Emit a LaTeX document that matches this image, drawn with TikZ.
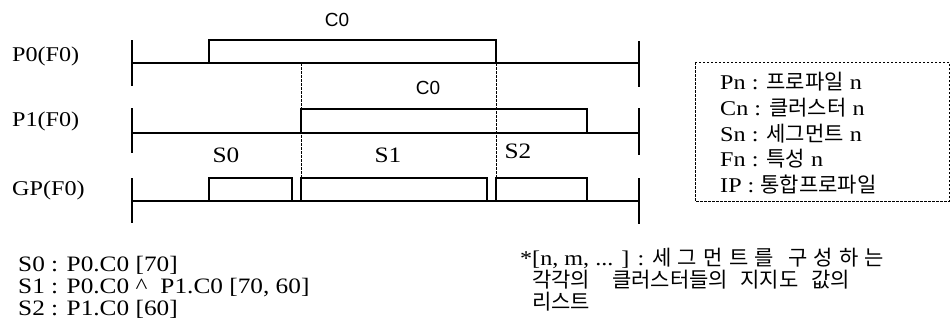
\documentclass[tikz,border=0pt]{standalone}
\usepackage{fontspec}
\setmainfont[FakeStretch=1.15]{Liberation Serif}
\newfontfamily\kr{Noto Sans CJK KR}
\newfontfamily\lsans{Liberation Sans}
\begin{document}
\begin{tikzpicture}[x=1pt,y=-1pt,
  sig/.style={line width=1.4pt},
  tickline/.style={line width=1.4pt},
  guide/.style={line width=0.8pt, dash pattern=on 2.5pt off 1.5pt},
  lbl/.style={font=\fontsize{21}{24}\selectfont, inner sep=0pt},
  slbl/.style={font=\fontsize{22}{24}\selectfont, inner sep=0pt},
  clbl/.style={font=\lsans\fontsize{19}{22}\selectfont, inner sep=0pt},
  txt/.style={font=\fontsize{22}{22}\selectfont, inner sep=0pt, align=left},
  note/.style={font=\fontsize{21}{22}\selectfont, inner sep=0pt, align=left},
  legtxt/.style={font=\fontsize{21}{25.8}\selectfont, inner sep=0pt, align=left}]
\useasboundingbox (0,0) rectangle (952,330);
% guides
\draw[guide] (301,63) -- (301,178);
\draw[guide] (496,63) -- (496,178);
% P0
\draw[tickline] (132,40) -- (132,86);
\draw[tickline] (639,41) -- (639,87);
\draw[sig] (132,63) -- (639,63);
\draw[sig] (209,63) -- (209,40) -- (496,40) -- (496,63);
% P1
\draw[tickline] (132,108) -- (132,153);
\draw[tickline] (639,108) -- (639,155);
\draw[sig] (132,133) -- (639,133);
\draw[sig] (301,133) -- (301,109) -- (587,109) -- (587,133);
% GP
\draw[tickline] (132,178) -- (132,223);
\draw[tickline] (639,178) -- (639,224);
\draw[sig] (132,201) -- (639,201);
\draw[sig] (209,201) -- (209,178) -- (292,178) -- (292,201);
\draw[sig] (301,201) -- (301,178) -- (487,178) -- (487,201);
\draw[sig] (496,201) -- (496,178) -- (587,178) -- (587,201);
% row labels
\node[lbl, anchor=west] (p0) at (12,56) {P0(F0)};
\node[lbl, anchor=west] (p1) at (12,121) {P1(F0)};
\node[lbl, anchor=west] (gp) at (12,190) {GP(F0)};
% pulse labels
\node[clbl] (c0a) at (337,20) {C0};
\node[clbl] (c0b) at (428,88) {C0};
\node[slbl] (s0) at (226,155) {S0};
\node[slbl] (s1) at (388,155) {S1};
\node[slbl] (s2) at (518,151) {S2};
% legend box
\draw[guide] (695,62) rectangle (949,201);
\node[legtxt, anchor=north west] (leg) at (720,72) {Pn : {\kr 프로파일} n\\
Cn : {\kr 클러스터} n\\
Sn : {\kr 세그먼트} n\\
Fn : {\kr 특성} n\\
IP : {\kr 통합프로파일}};
% bottom notes
\node[txt, anchor=north west] (segs) at (18,256) {S0 : P0.C0 [70]\\
S1 : P0.C0 \^{}\hspace{13pt}P1.C0 [70, 60]\\
S2 : P1.C0 [60]};
\node[note, anchor=north west] (notes) at (532,248) {\llap{*}[n, m, ... ] : {\kr\makebox[232pt][s]{세\hfil 그\hfil 먼\hfil 트\hfil 를\hspace{8pt plus 1fil}구\hfil 성\hfil 하\hfil 는}}\\
{\kr 각각의\hspace{22pt}클러스터들의\hspace{12.5pt}지지도\hspace{12.5pt}값의}\\
{\kr 리스트}};
\end{tikzpicture}
\end{document}
